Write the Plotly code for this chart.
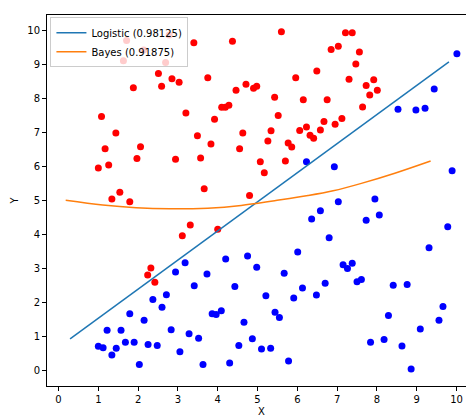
import plotly.graph_objects as go

# class 1 (red) points
red_x = [1.00, 1.08, 1.17, 1.26, 1.34, 1.44, 1.54, 1.63, 1.71, 1.79, 1.88, 1.97, 2.06, 2.14, 2.24, 2.32,
         2.42, 2.51, 2.59, 2.69, 2.78, 2.85, 2.94, 3.03, 3.11, 3.20, 3.31, 3.40, 3.49, 3.57, 3.66, 3.75,
         3.83, 3.92, 4.00, 4.10, 4.19, 4.28, 4.37, 4.46, 4.55, 4.63, 4.71, 4.80, 4.90, 4.98, 5.07, 5.17,
         5.26, 5.34, 5.43, 5.52, 5.60, 5.70, 5.77, 5.86, 5.96, 6.06, 6.15, 6.23, 6.32, 6.41, 6.49, 6.58,
         6.67, 6.75, 6.85, 6.95, 7.03, 7.12, 7.21, 7.30, 7.38, 7.47, 7.56, 7.64, 7.73, 7.82, 7.92, 8.01]
red_y = [5.95, 7.47, 6.52, 6.04, 5.04, 6.98, 5.24, 9.11, 9.71, 4.96, 8.32, 6.23, 6.58, 9.43, 2.80, 3.01,
         2.59, 8.74, 8.36, 9.06, 9.87, 8.58, 6.21, 8.48, 3.96, 7.57, 4.27, 9.64, 6.90, 6.25, 5.34, 8.61,
         6.66, 7.39, 4.15, 7.74, 7.74, 7.80, 9.69, 8.24, 6.52, 6.98, 8.42, 5.14, 8.30, 8.36, 6.14, 5.81,
         6.75, 7.05, 8.04, 7.50, 9.97, 6.16, 6.69, 6.57, 8.61, 7.06, 7.96, 7.16, 6.92, 6.83, 8.81, 7.07,
         7.32, 7.96, 9.44, 7.24, 9.54, 7.41, 9.94, 8.57, 9.94, 9.02, 9.37, 7.75, 8.38, 8.10, 8.55, 8.24]

# class 0 (blue) points
blue_x = [1.00, 1.12, 1.22, 1.34, 1.45, 1.57, 1.68, 1.79, 1.90, 2.03, 2.15, 2.25, 2.37, 2.48, 2.60, 2.71,
          2.83, 2.94, 3.05, 3.18, 3.28, 3.41, 3.52, 3.63, 3.73, 3.86, 3.96, 4.09, 4.20, 4.30, 4.43, 4.53,
          4.66, 4.75, 4.87, 4.98, 5.10, 5.21, 5.33, 5.44, 5.55, 5.67, 5.78, 5.91, 6.01, 6.13, 6.23, 6.36,
          6.48, 6.58, 6.70, 6.80, 6.93, 7.03, 7.15, 7.26, 7.38, 7.50, 7.61, 7.73, 7.84, 7.95, 8.06, 8.18,
          8.29, 8.41, 8.53, 8.63, 8.76, 8.86, 8.98, 9.09, 9.21, 9.31, 9.44, 9.56, 9.66, 9.78, 9.89, 10.01]
blue_y = [0.70, 0.66, 1.17, 0.44, 0.64, 1.17, 0.82, 1.66, 0.82, 0.16, 1.47, 0.75, 2.08, 0.72, 1.85, 2.22,
          1.19, 2.89, 0.54, 3.16, 1.07, 2.48, 0.94, 0.16, 2.83, 1.66, 1.64, 1.75, 3.27, 0.21, 2.46, 0.72,
          1.41, 3.36, 0.92, 3.03, 0.62, 2.19, 0.64, 1.70, 1.55, 2.85, 0.27, 2.12, 3.48, 2.42, 6.14, 4.45,
          2.21, 4.69, 2.56, 3.90, 5.99, 4.96, 3.10, 2.99, 3.15, 2.60, 2.67, 4.41, 0.82, 5.04, 4.57, 0.90,
          1.61, 2.50, 7.68, 0.71, 2.52, 0.03, 7.66, 1.21, 7.71, 3.60, 8.28, 1.47, 1.87, 4.22, 5.87, 9.32]

# decision boundaries
logistic_x = [0.29, 9.81]
logistic_y = [0.92, 9.08]
bayes_x = [0.18, 1.11, 1.95, 2.79, 3.75, 4.59, 5.43, 6.27, 6.90, 7.61, 8.45, 9.35]
bayes_y = [5.00, 4.86, 4.78, 4.75, 4.77, 4.85, 4.99, 5.14, 5.28, 5.50, 5.80, 6.16]

font = "DejaVu Sans"

fig = go.Figure()
fig.add_trace(go.Scatter(x=red_x, y=red_y, mode="markers",
                         marker=dict(color="red", size=7), showlegend=False))
fig.add_trace(go.Scatter(x=blue_x, y=blue_y, mode="markers",
                         marker=dict(color="blue", size=7), showlegend=False))
fig.add_trace(go.Scatter(x=logistic_x, y=logistic_y, mode="lines",
                         line=dict(color="#1f77b4", width=1.5), name="Logistic (0.98125)"))
fig.add_trace(go.Scatter(x=bayes_x, y=bayes_y, mode="lines",
                         line=dict(color="#ff7f0e", width=1.5, shape="spline"), name="Bayes (0.91875)"))

axis_style = dict(
    showgrid=False, zeroline=False, showline=True, linecolor="black", linewidth=1,
    mirror=True, ticks="outside", ticklen=4, tickcolor="black",
    tickfont=dict(family=font, size=10, color="black"),
    tickmode="array", tickvals=list(range(11)),
)

fig.update_xaxes(range=[-0.29, 10.49], title=dict(text="X", font=dict(family=font, size=10, color="black"), standoff=3),
                 **axis_style)
fig.update_yaxes(range=[-0.47, 10.46], title=dict(text="Y", font=dict(family=font, size=10, color="black"), standoff=6),
                 **axis_style)

fig.update_layout(
    width=474, height=415,
    margin=dict(l=39, r=6, t=7, b=37),
    plot_bgcolor="white", paper_bgcolor="white",
    font=dict(family=font, size=10, color="black"),
    legend=dict(x=0.008, y=0.994, xanchor="left", yanchor="top",
                bgcolor="rgba(255,255,255,0.8)", bordercolor="#cccccc", borderwidth=1,
                font=dict(family=font, size=10), tracegroupgap=0),
)

fig.write_html("out.html")
